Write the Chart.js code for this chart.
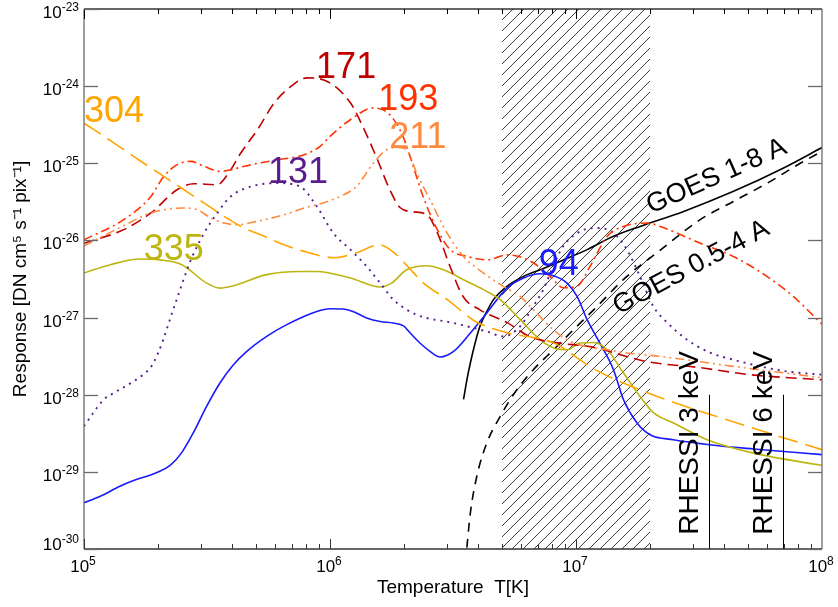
<!DOCTYPE html>
<html>
<head>
<meta charset="utf-8">
<title>Temperature response</title>
<script src="https://cdn.jsdelivr.net/npm/chart.js"></script>
<style>
  html, body { margin: 0; padding: 0; background: #fff; }
</style>
</head>
<body>
<canvas id="resp" width="838" height="607"></canvas>
<script>
    // values (T in K, response in DN cm^5 s^-1 pix^-1)
    const t94 = [1e5, 1.16e5, 1.4e5, 1.59e5, 1.98e5, 2.24e5, 2.5e5, 2.78e5, 3.15e5, 3.57e5, 4.05e5, 4.59e5, 5.53e5, 6.67e5, 8.84e5,
        1e6, 1.13e6, 1.24e6, 1.41e6, 1.6e6, 1.81e6, 1.99e6, 2.12e6, 2.32e6, 2.55e6, 2.8e6, 3.18e6, 3.72e6, 4.34e6, 5.24e6,
        6.12e6, 7.15e6, 8.1e6, 9.2e6, 1.01e7, 1.11e7, 1.25e7, 1.42e7, 1.56e7, 1.77e7, 2.0e7, 2.49e7, 3.49e7, 5.27e7, 1e8];
    const r94 = [3.98e-30, 4.8e-30, 6.5e-30, 7.7e-30, 9.8e-30, 1.21e-29, 1.79e-29, 3.19e-29, 7.05e-29, 1.42e-28, 2.44e-28, 3.64e-28, 5.7e-28, 8.1e-28, 1.2e-27,
        1.3e-27, 1.29e-27, 1.2e-27, 9.9e-28, 8.9e-28, 8.5e-28, 7.8e-28, 6.3e-28, 4.68e-28, 3.64e-28, 3.08e-28, 3.64e-28, 6.3e-28, 1.15e-27, 2.41e-27,
        3.26e-27, 3.7e-27, 3.49e-27, 2.8e-27, 1.88e-27, 9.4e-28, 4.68e-28, 2.11e-28, 8.6e-29, 4.3e-29, 3.03e-29, 2.61e-29, 2.25e-29, 1.98e-29, 1.67e-29];

    const t131 = [1e5, 1.09e5, 1.2e5, 1.32e5, 1.59e5, 1.74e5, 1.88e5, 2.0e5, 2.1e5, 2.2e5, 2.38e5, 2.72e5, 3.08e5, 3.48e5, 3.95e5,
        4.77e5, 6.08e5, 7.55e5, 8.84e5, 1.03e6, 1.21e6, 1.41e6, 1.6e6, 1.81e6, 2.25e6, 3.18e6, 4.34e6, 5.06e6, 5.93e6, 6.7e6,
        7.36e6, 8.07e6, 8.87e6, 1.04e7, 1.22e7, 1.42e7, 1.61e7, 1.82e7, 2.06e7, 2.35e7, 2.83e7, 3.51e7, 4.36e7, 5.61e7, 7.23e7, 1e8];
    const r131 = [3.9e-29, 5.8e-29, 8.6e-29, 1.05e-28, 1.49e-28, 1.82e-28, 2.33e-28, 3.47e-28, 5.16e-28, 8.1e-28, 1.71e-27, 5.6e-27, 1.25e-26, 2.26e-26, 3.72e-26,
        5.0e-26, 5.54e-26, 5.0e-26, 2.76e-26, 1.25e-26, 7.6e-27, 4.6e-27, 2.8e-27, 1.71e-27, 1.09e-27, 8.5e-28, 6.6e-28, 5.7e-28, 7.7e-28, 1.4e-27,
        2.3e-27, 4.6e-27, 8.4e-27, 1.31e-26, 1.45e-26, 1.25e-26, 7.6e-27, 3.42e-27, 1.4e-27, 8.6e-28, 5.16e-28, 3.5e-28, 2.85e-28, 2.33e-28, 2.0e-28, 1.82e-28];

    const t171 = [1e5, 1.45e5, 1.87e5, 2.39e5, 2.8e5, 3.48e5, 3.83e5, 4.34e5, 5.07e5, 5.93e5, 6.93e5, 8.05e5, 9.38e5, 1.21e6, 1.36e6, 1.56e6,
        1.75e6, 1.93e6, 2.18e6, 2.48e6, 2.73e6, 3.08e6, 3.48e6, 4.07e6, 5.25e6, 6.51e6, 8.38e6, 1.14e7, 1.95e7, 3.2e7, 5.1e7, 1e8];
    const r171 = [9.2e-27, 1.38e-26, 2.27e-26, 4.54e-26, 5.43e-26, 5.27e-26, 7.1e-26, 1.36e-25, 2.72e-25, 6.04e-25, 9.9e-25, 1.28e-24, 1.21e-24, 6.1e-25, 2.98e-25, 1.11e-25,
        4.54e-26, 2.65e-26, 2.35e-26, 2.15e-26, 1.26e-26, 4.56e-27, 1.86e-27, 1.26e-27, 8.6e-28, 5.64e-28, 4.7e-28, 4.2e-28, 2.68e-28, 2.24e-28, 1.82e-28, 1.56e-28];

    const t193 = [1e5, 1.45e5, 1.87e5, 2.11e5, 2.39e5, 2.72e5, 3.08e5, 3.6e5, 3.95e5, 4.77e5, 6.11e5, 7.85e5, 9.12e5, 1e6, 1.21e6, 1.5e6, 1.75e6,
        1.98e6, 2.18e6, 2.39e6, 2.73e6, 3.08e6, 3.61e6, 4.36e6, 5.25e6, 6.7e6, 7.85e6, 8.87e6, 1.01e7, 1.14e7, 1.34e7, 1.56e7, 1.95e7, 2.2e7,
        3.2e7, 4.36e7, 5.97e7, 7.64e7, 1e8];
    const r193 = [1.02e-26, 1.86e-26, 3.72e-26, 6.76e-26, 9.6e-26, 1.06e-25, 9.1e-26, 7.85e-26, 8.26e-26, 9.6e-26, 1.11e-25, 1.29e-25, 1.66e-25, 2.23e-25, 3.67e-25, 5.21e-25, 4.27e-25,
        2.23e-25, 9.1e-26, 3.72e-26, 1.38e-26, 7.6e-27, 6.2e-27, 5.6e-27, 6.5e-27, 5.14e-27, 3.42e-27, 2.44e-27, 2.54e-27, 4.6e-27, 1.13e-26, 1.52e-26, 1.68e-26, 1.52e-26,
        9.2e-27, 6.2e-27, 3.42e-27, 1.88e-27, 8.2e-28];

    const t211 = [1e5, 1.45e5, 1.87e5, 2.55e5, 2.89e5, 3.28e5, 3.71e5, 4.2e5, 5.07e5, 6.5e5, 7.85e5, 8.84e5, 1.1e6, 1.28e6, 1.5e6, 1.7e6, 1.9e6,
        2.05e6, 2.25e6, 2.55e6, 2.99e6, 3.49e6, 4.21e6, 5.06e6, 5.93e6, 6.71e6, 8.07e6, 9.2e6, 1.09e7, 1.34e7, 1.61e7, 2.2e7, 4.36e7, 1e8];
    const r211 = [8.5e-27, 1.55e-26, 2.27e-26, 2.63e-26, 2.5e-26, 1.95e-26, 1.68e-26, 1.6e-26, 1.77e-26, 2.15e-26, 2.63e-26, 2.9e-26, 3.72e-26, 5.0e-26, 1.0e-25, 1.5e-25, 1.6e-25,
        1.5e-25, 7.5e-26, 3.37e-26, 1.25e-26, 6.2e-27, 3.78e-27, 2.54e-27, 1.88e-27, 1.26e-27, 7.0e-28, 5.16e-28, 4.23e-28, 3.83e-28, 3.47e-28, 3.14e-28, 2.33e-28, 1.66e-28];

    const t304 = [1e5, 1.21e5, 1.45e5, 1.75e5, 2.11e5, 2.55e5, 3.08e5, 3.71e5, 4.48e5, 5.4e5, 6.5e5, 7.6e5, 1.05e6, 1.28e6, 1.59e6, 1.82e6,
        2.07e6, 2.4e6, 3.0e6, 3.9e6, 5.2e6, 8.1e6, 1.2e7, 2.0e7, 5.1e7, 1e8];
    const r304 = [3.3e-25, 2.23e-25, 1.5e-25, 1.0e-25, 6.76e-26, 4.54e-26, 3.05e-26, 2.05e-26, 1.45e-26, 1.13e-26, 8.8e-27, 7.43e-27, 5.97e-27, 6.93e-27, 8.8e-27, 6.93e-27,
        4.6e-27, 2.8e-27, 1.71e-27, 8.9e-28, 6.4e-28, 4.7e-28, 2.1e-28, 1.03e-28, 3.8e-29, 1.94e-29];

    const t335 = [1e5, 1.28e5, 1.69e5, 2.04e5, 2.5e5, 3.15e5, 3.57e5, 4.05e5, 5.53e5, 7.55e5, 8.84e5, 1.21e6, 1.6e6, 1.78e6, 2.05e6, 2.48e6, 2.89e6,
        3.49e6, 4.21e6, 4.92e6, 5.93e6, 7.14e6, 8.1e6, 9.2e6, 1.04e7, 1.18e7, 1.34e7, 1.56e7, 1.82e7, 2.07e7, 2.49e7, 3.41e7, 5.27e7, 1e8];
    const r335 = [3.78e-27, 4.85e-27, 5.74e-27, 5.6e-27, 4.85e-27, 2.8e-27, 2.41e-27, 2.59e-27, 3.6e-27, 3.96e-27, 3.96e-27, 3.26e-27, 2.49e-27, 2.8e-27, 4.17e-27, 4.7e-27, 4.17e-27,
        3.1e-27, 2.3e-27, 1.71e-27, 9.4e-28, 5.16e-28, 4.03e-28, 3.83e-28, 4.68e-28, 4.76e-28, 3.83e-28, 1.91e-28, 9.5e-29, 5.8e-29, 4.3e-29, 2.61e-29, 1.75e-29, 1.21e-29];

    const tGoesLong = [3.49e6, 3.6e6, 3.72e6, 3.89e6, 4.07e6, 4.34e6, 4.62e6, 5.24e6, 6.12e6, 7.15e6, 8.9e6, 1.11e7, 1.42e7, 1.82e7, 2.74e7, 4.37e7, 6.98e7, 1e8];
    const rGoesLong = [8.7e-29, 1.55e-28, 2.58e-28, 4.68e-28, 7.7e-28, 1.2e-27, 1.71e-27, 2.54e-27, 3.42e-27, 4.17e-27, 5.6e-27, 7.6e-27, 1.13e-26, 1.52e-26, 2.38e-26, 4.33e-26, 8.7e-26, 1.6e-25];

    const tGoesShort = [3.6e6, 3.72e6, 3.95e6, 4.34e6, 4.92e6, 5.75e6, 6.71e6, 8.1e6, 9.77e6, 1.18e7, 1.61e7, 2.13e7, 3.2e7, 4.36e7, 6.0e7, 8.16e7, 1e8];
    const rGoesShort = [1.04e-30, 2.93e-30, 8.7e-30, 2.37e-29, 5.24e-29, 1.16e-28, 2.11e-28, 3.83e-28, 6.97e-28, 1.26e-27, 3.42e-27, 6.9e-27, 1.86e-26, 3.2e-26, 5.54e-26, 1.0e-25, 1.43e-25];

    const hatchRange = [5e6, 2e7];        // shaded band
    const rhessiT = [3.48e7, 6.96e7];     // 3 keV and 6 keV
    const rhessiTop = 1e-28;

    const xTicks = [1e5, 1e6, 1e7, 1e8];
    const yTicks = [1e-30, 1e-29, 1e-28, 1e-27, 1e-26, 1e-25, 1e-24, 1e-23];

    const FONT = "'Liberation Sans', Arial, sans-serif";
    const series = (t, r, color, dash, width) => ({
        data: t.map((x, i) => ({ x: x, y: r[i] })),
        showLine: true,
        borderColor: color,
        borderWidth: width || 1.6,
        borderDash: dash,
        pointRadius: 0,
        fill: false,
        cubicInterpolationMode: 'monotone'
    });

    Chart.defaults.font.family = FONT;

    // hatch band, RHESSI markers, frame with inward ticks, tick labels, curve labels
    const extras = {
        id: 'extras',
        beforeDatasetsDraw(chart) {
            const ctx = chart.ctx, xs = chart.scales.x;
            const { top, bottom } = chart.chartArea;
            const x0 = xs.getPixelForValue(hatchRange[0]), x1 = xs.getPixelForValue(hatchRange[1]);
            const h = bottom - top;
            ctx.save();
            ctx.beginPath();
            ctx.rect(x0, top, x1 - x0, h);
            ctx.clip();
            ctx.strokeStyle = '#222';
            ctx.lineWidth = 0.9;
            ctx.beginPath();
            for (let x = x0 - h; x < x1; x += 11) {
                ctx.moveTo(x, bottom);
                ctx.lineTo(x + h, top);
            }
            ctx.stroke();
            ctx.restore();
        },
        afterDatasetsDraw(chart) {
            const ctx = chart.ctx, xs = chart.scales.x, ys = chart.scales.y;
            const { left, right, top, bottom } = chart.chartArea;
            const seg = (a, b, c, d) => { ctx.beginPath(); ctx.moveTo(a, b); ctx.lineTo(c, d); ctx.stroke(); };
            ctx.save();

            // RHESSI lines
            ctx.strokeStyle = '#000';
            ctx.lineWidth = 1;
            rhessiT.forEach(t => {
                const px = Math.round(xs.getPixelForValue(t)) + 0.5;
                seg(px, ys.getPixelForValue(rhessiTop), px, bottom);
            });

            // frame
            ctx.lineWidth = 1.3;
            ctx.strokeStyle = '#333';
            seg(left, top, right, top);
            seg(left, bottom, right, bottom);
            ctx.strokeStyle = '#6a6a6a';
            seg(left, top, left, bottom);
            seg(right, top, right, bottom);

            // x ticks (top and bottom, inward)
            ctx.lineWidth = 1;
            for (let e = 5; e < 8; e++) {
                for (let m = 1; m <= 9; m++) {
                    const px = Math.round(xs.getPixelForValue(m * Math.pow(10, e))) + 0.5;
                    const len = m === 1 ? 10 : 5;
                    ctx.strokeStyle = '#333';
                    seg(px, bottom, px, bottom - len);
                    ctx.strokeStyle = '#000';
                    seg(px, top, px, top + len);
                }
            }
            // y ticks (left and right, inward)
            ctx.strokeStyle = '#6a6a6a';
            ctx.lineWidth = 1.3;
            yTicks.forEach(v => {
                const py = Math.round(ys.getPixelForValue(v)) + 0.5;
                seg(left, py, left + 14, py);
                seg(right, py, right - 14, py);
            });

            // tick labels 10^n with a raised exponent
            ctx.fillStyle = '#000';
            ctx.textBaseline = 'alphabetic';
            ctx.textAlign = 'left';
            const power = (v, x, y, align) => {
                const ex = String(Math.round(Math.log10(v)));
                ctx.font = '17px ' + FONT;
                const wb = ctx.measureText('10').width;
                ctx.font = '12px ' + FONT;
                const we = ctx.measureText(ex).width;
                const x0 = align === 'right' ? x - wb - we : x - (wb + we) / 2;
                ctx.font = '17px ' + FONT;
                ctx.fillText('10', x0, y);
                ctx.font = '12px ' + FONT;
                ctx.fillText(ex, x0 + wb, y - 7);
            };
            xTicks.forEach(v => power(v, xs.getPixelForValue(v) - 1, bottom + 22.5, 'center'));
            yTicks.forEach(v => power(v, left - 5, Math.min(ys.getPixelForValue(v) + 9, bottom + 1), 'right'));

            // curve labels
            const notes = [
                { text: '304', color: '#FFA500', t: 1.0e5, r: 3.46e-25, size: 36, angle: 0 },
                { text: '171', color: '#C00000', t: 8.78e5, r: 1.28e-24, size: 36, angle: 0 },
                { text: '193', color: '#FF3300', t: 1.57e6, r: 4.96e-25, size: 36, angle: 0 },
                { text: '211', color: '#FF8A3D', t: 1.74e6, r: 1.59e-25, size: 36, angle: 0 },
                { text: '131', color: '#5B1D8E', t: 5.6e5, r: 5.54e-26, size: 36, angle: 0 },
                { text: '335', color: '#BDB510', t: 1.75e5, r: 5.62e-27, size: 36, angle: 0 },
                { text: '94', color: '#1A1AFF', t: 7.05e6, r: 3.6e-27, size: 36, angle: 0 },
                { text: 'GOES 1-8 A', color: '#000', t: 2.02e7, r: 2.22e-26, size: 27, angle: -24 },
                { text: 'GOES 0.5-4 A', color: '#000', t: 1.49e7, r: 1.09e-27, size: 27, angle: -28 },
                { text: 'RHESSI 3 keV', color: '#000', t: 3.12e7, r: 1.53e-30, size: 28, angle: -90 },
                { text: 'RHESSI 6 keV', color: '#000', t: 6.27e7, r: 1.53e-30, size: 28, angle: -90 }
            ];
            notes.forEach(n => {
                ctx.save();
                ctx.translate(xs.getPixelForValue(n.t), ys.getPixelForValue(n.r));
                ctx.rotate(n.angle * Math.PI / 180);
                ctx.fillStyle = n.color;
                ctx.font = n.size + 'px ' + FONT;
                ctx.fillText(n.text, 0, 0);
                ctx.restore();
            });
            ctx.restore();
        }
    };

    new Chart(document.getElementById('resp'), {
        type: 'scatter',
        data: {
            datasets: [
                series(t304, r304, '#FFA500', [20, 8]),
                series(t211, r211, '#FF8A3D', [9, 4, 2, 4, 2, 4]),
                series(t193, r193, '#FF3300', [9, 4, 2, 4]),
                series(t171, r171, '#C00000', [11, 6]),
                series(t131, r131, '#5B1D8E', [2, 5], 1.9),
                series(t335, r335, '#BDB510', []),
                series(t94, r94, '#1A1AFF', []),
                series(tGoesLong, rGoesLong, '#000', []),
                series(tGoesShort, rGoesShort, '#000', [9, 7])
            ]
        },
        options: {
            responsive: false,
            animation: false,
            devicePixelRatio: 1,
            layout: { padding: { top: 9, right: 16, left: 0, bottom: 0 } },
            plugins: {
                legend: { display: false },
                tooltip: { enabled: false }
            },
            scales: {
                x: {
                    type: 'logarithmic',
                    min: 1e5,
                    max: 1e8,
                    grid: { display: false, drawTicks: false },
                    border: { display: false },
                    ticks: { display: false },
                    afterFit: s => { s.height = 58; },
                    title: {
                        display: true,
                        text: 'Temperature  T[K]',
                        color: '#000',
                        font: { size: 19 },
                        padding: { top: 0, bottom: 8 }
                    }
                },
                y: {
                    type: 'logarithmic',
                    min: 1e-30,
                    max: 1e-23,
                    grid: { display: false, drawTicks: false },
                    border: { display: false },
                    ticks: { display: false },
                    afterFit: s => { s.width = 84; },
                    title: {
                        display: true,
                        text: 'Response [DN cm⁵ s⁻¹ pix⁻¹]',
                        color: '#000',
                        font: { size: 19 },
                        padding: { top: 9, bottom: 0 }
                    }
                }
            }
        },
        plugins: [extras]
    });
</script>
</body>
</html>
